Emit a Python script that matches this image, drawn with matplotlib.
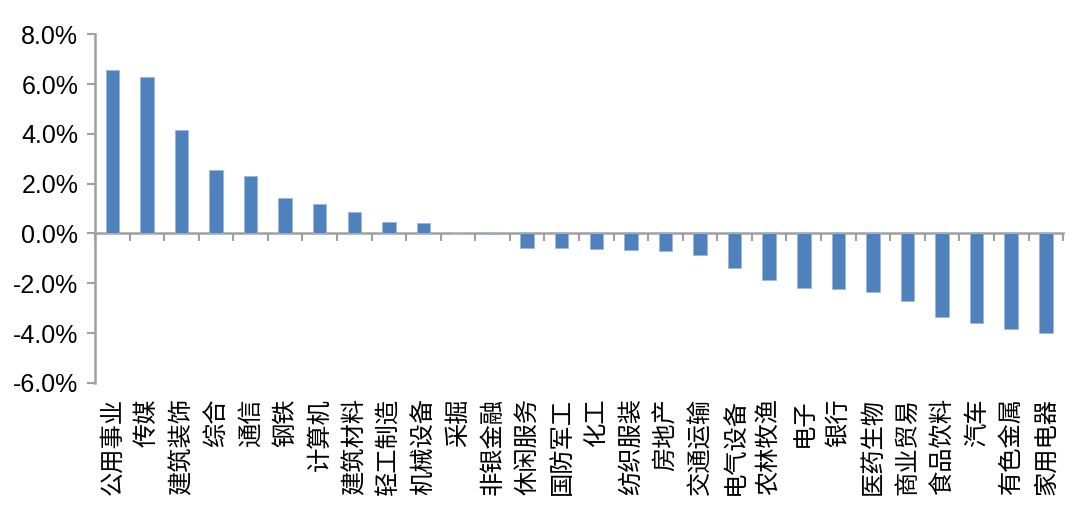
import numpy as np
import matplotlib
matplotlib.use('Agg')
import matplotlib.pyplot as plt
from matplotlib.ticker import FuncFormatter

plt.rcParams['font.family'] = ['Liberation Sans', 'Noto Sans CJK SC', 'DejaVu Sans']

##Industry names, left to right
industries = ['公用事业', '传媒', '建筑装饰', '综合', '通信', '钢铁', '计算机', '建筑材料',
              '轻工制造', '机械设备', '采掘', '非银金融', '休闲服务', '国防军工', '化工',
              '纺织服装', '房地产', '交通运输', '电气设备', '农林牧渔', '电子', '银行',
              '医药生物', '商业贸易', '食品饮料', '汽车', '有色金属', '家用电器']

##Change in percent
change = [6.55, 6.29, 4.16, 2.53, 2.31, 1.42, 1.20, 0.88,
          0.45, 0.41, 0.01, -0.03, -0.58, -0.58, -0.64,
          -0.66, -0.71, -0.87, -1.38, -1.87, -2.18, -2.22,
          -2.34, -2.70, -3.35, -3.61, -3.83, -3.99]

y_ticks = [-6, -4, -2, 0, 2, 4, 6, 8]

bar_color = '#4F81BD'
axis_color = '#A0A0A0'


def main():

    fig = plt.figure(figsize=(10.89, 5.07), dpi=100)
    ax = fig.add_axes([0.0872, 0.2446, 0.889, 0.688])

    x = np.arange(len(industries))
    ax.bar(x, change, width=0.39, color=bar_color, edgecolor='#9DB7DA', linewidth=0.6, zorder=3)

    ax.set_xlim(-0.5, len(industries) - 0.5)
    ax.set_ylim(y_ticks[0], y_ticks[-1])
    ax.set_yticks(y_ticks)
    ax.yaxis.set_major_formatter(FuncFormatter(lambda v, pos: '{:.1f}%'.format(v)))
    ax.tick_params(axis='y', direction='out', length=6, width=1.5, color=axis_color,
                   labelsize=18, pad=6)

    # Zero line carries the category boundary ticks
    ax.spines['bottom'].set_position(('data', 0))
    ax.spines['bottom'].set_color(axis_color)
    ax.spines['bottom'].set_linewidth(1.8)
    ax.spines['left'].set_color(axis_color)
    ax.spines['left'].set_linewidth(1.8)
    ax.spines['top'].set_visible(False)
    ax.spines['right'].set_visible(False)
    ax.set_xticks(np.arange(len(industries) + 1) - 0.5)
    ax.set_xticklabels([])
    ax.tick_params(axis='x', direction='out', length=6, width=1.5, color=axis_color)

    # Category names below the plot area
    sec = ax.secondary_xaxis('bottom')
    sec.set_xticks(x)
    sec.set_xticklabels(industries, rotation=90, family=['Noto Sans CJK SC', 'DejaVu Sans'])
    sec.tick_params(length=0, pad=11, labelsize=17.5)
    sec.spines['bottom'].set_visible(False)

    fig.savefig('out.png', dpi=100)


if __name__ == '__main__':

    main()
